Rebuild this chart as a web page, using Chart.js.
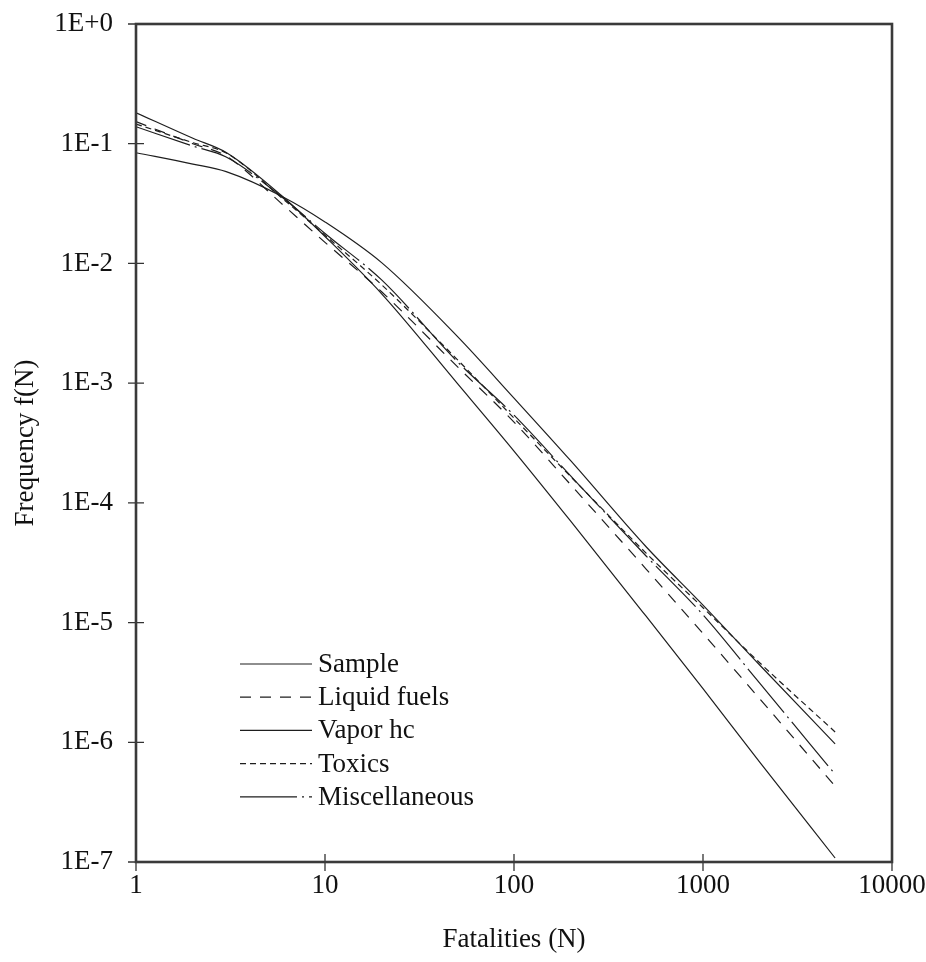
<!DOCTYPE html>
<html>
<head>
<meta charset="utf-8">
<script src="https://cdn.jsdelivr.net/npm/chart.js@4.4.1/dist/chart.umd.min.js"></script>
<style>
html, body { margin: 0; padding: 0; background: #fff; }
#wrap { width: 926px; height: 962px; }
</style>
</head>
<body>
<div id="wrap"><canvas id="grafico" width="926" height="962"></canvas></div>
<script>
// fatalities N (x) and f(N) for each curve
const fatalidades = [1, 2, 3, 6, 10, 20, 50, 100, 200, 500, 1000, 2000, 5000]
const sample = [0.0841, 0.0676, 0.0584, 0.0359, 0.0222, 0.0101, 0.00247, 7.5e-4, 2.24e-4, 4.3e-5, 1.4e-5, 4.4e-6, 9.7e-7]
const liquidFuels = [0.153, 0.100, 0.0789, 0.0308, 0.0150, 0.00577, 1.38e-3, 4.73e-4, 1.41e-4, 2.8e-5, 8.1e-6, 2.3e-6, 4.3e-7]
const vaporHc = [0.1815, 0.111, 0.0844, 0.0359, 0.0168, 0.00555, 1.0e-3, 2.71e-4, 7.0e-5, 1.13e-5, 2.81e-6, 6.8e-7, 1.08e-7]
const toxics = [0.146, 0.102, 0.0836, 0.0345, 0.0172, 0.0066, 1.58e-3, 5.1e-4, 1.65e-4, 3.8e-5, 1.33e-5, 4.6e-6, 1.22e-6]
const misc = [0.1387, 0.0955, 0.0774, 0.0352, 0.0178, 0.00725, 1.52e-3, 5.4e-4, 1.67e-4, 3.6e-5, 1.16e-5, 3.1e-6, 5.4e-7]

const nomes = ['Sample', 'Liquid fuels', 'Vapor hc', 'Toxics', 'Miscellaneous']
const series = [sample, liquidFuels, vaporHc, toxics, misc]
const tracos = [[], [11, 9], [], [6, 4], [57, 5, 2, 5]]

const xTicks = [1, 10, 100, 1000, 10000]
const xLabels = ['1', '10', '100', '1000', '10000']
const yTicks = [1, 1e-1, 1e-2, 1e-3, 1e-4, 1e-5, 1e-6, 1e-7]
const yLabels = ['1E+0', '1E-1', '1E-2', '1E-3', '1E-4', '1E-5', '1E-6', '1E-7']

const fonte = 'Liberation Serif'
const corLinha = '#1e1e1e'

const datasets = series.map((s, i) => ({
    label: nomes[i],
    data: s.map((v, j) => ({ x: fatalidades[j], y: v })),
    borderColor: corLinha,
    borderWidth: 1.2,
    borderDash: tracos[i],
    pointRadius: 0,
    fill: false,
    cubicInterpolationMode: 'monotone'
}))

// frame, crossing tick marks and the legend inside the plot
const moldura = {
    id: 'moldura',
    afterDraw(chart) {
        const ctx = chart.ctx
        const a = chart.chartArea
        const sx = chart.scales.x, sy = chart.scales.y
        ctx.save()
        ctx.strokeStyle = '#333'
        ctx.lineWidth = 1.3
        ctx.beginPath()
        sx.ticks.forEach(t => {
            const px = sx.getPixelForValue(t.value)
            ctx.moveTo(px, a.bottom - 8)
            ctx.lineTo(px, a.bottom + 9)
        })
        sy.ticks.forEach(t => {
            const py = sy.getPixelForValue(t.value)
            ctx.moveTo(a.left - 8, py)
            ctx.lineTo(a.left + 8, py)
        })
        ctx.stroke()
        ctx.lineWidth = 2.6
        ctx.strokeStyle = '#3a3a3a'
        ctx.strokeRect(a.left, a.top, a.right - a.left, a.bottom - a.top)

        // legend
        let y0 = 664
        ctx.font = '27px "' + fonte + '"'
        ctx.textBaseline = 'middle'
        ctx.fillStyle = '#111'
        chart.data.datasets.forEach((ds, i) => {
            const yy = y0 + i * 33.2
            ctx.strokeStyle = corLinha
            ctx.lineWidth = 1.2
            ctx.setLineDash(ds.borderDash)
            ctx.beginPath()
            ctx.moveTo(240, yy)
            ctx.lineTo(312, yy)
            ctx.stroke()
            ctx.setLineDash([])
            ctx.fillText(ds.label, 318, yy + 1)
        })
        ctx.restore()
    }
}

const config = {
    type: 'line',
    data: { datasets: datasets },
    options: {
        responsive: false,
        animation: false,
        devicePixelRatio: 1,
        layout: { padding: { top: 24, right: 34, left: 0, bottom: 0 } },
        plugins: {
            legend: { display: false },
            tooltip: { enabled: false }
        },
        scales: {
            x: {
                type: 'logarithmic',
                min: 1,
                max: 10000,
                afterBuildTicks: s => { s.ticks = xTicks.map(v => ({ value: v })) },
                afterFit: s => { s.height = 100; s.paddingLeft = 0; s.paddingRight = 0 },
                grid: { display: false, drawTicks: false },
                border: { display: false },
                ticks: {
                    autoSkip: false,
                    maxRotation: 0,
                    padding: 8,
                    color: '#111',
                    font: { family: fonte, size: 27 },
                    callback: v => { const i = xTicks.indexOf(v); return i >= 0 ? xLabels[i] : '' }
                },
                title: {
                    display: true,
                    text: 'Fatalities (N)',
                    color: '#111',
                    font: { family: fonte, size: 27 },
                    padding: { top: 0, bottom: 6 }
                }
            },
            y: {
                type: 'logarithmic',
                min: 1e-7,
                max: 1,
                afterBuildTicks: s => { s.ticks = yTicks.map(v => ({ value: v })) },
                afterFit: s => { s.width = 136; s.paddingTop = 0; s.paddingBottom = 0 },
                grid: { display: false, drawTicks: false },
                border: { display: false },
                ticks: {
                    autoSkip: false,
                    padding: 23,
                    color: '#111',
                    font: { family: fonte, size: 27 },
                    callback: v => { const i = yTicks.indexOf(v); return i >= 0 ? yLabels[i] : '' }
                },
                title: {
                    display: true,
                    text: 'Frequency f(N)',
                    color: '#111',
                    font: { family: fonte, size: 27 },
                    padding: { top: 10, bottom: 0 }
                }
            }
        }
    },
    plugins: [moldura]
}

const grafico = new Chart(document.getElementById('grafico'), config)
</script>
</body>
</html>
